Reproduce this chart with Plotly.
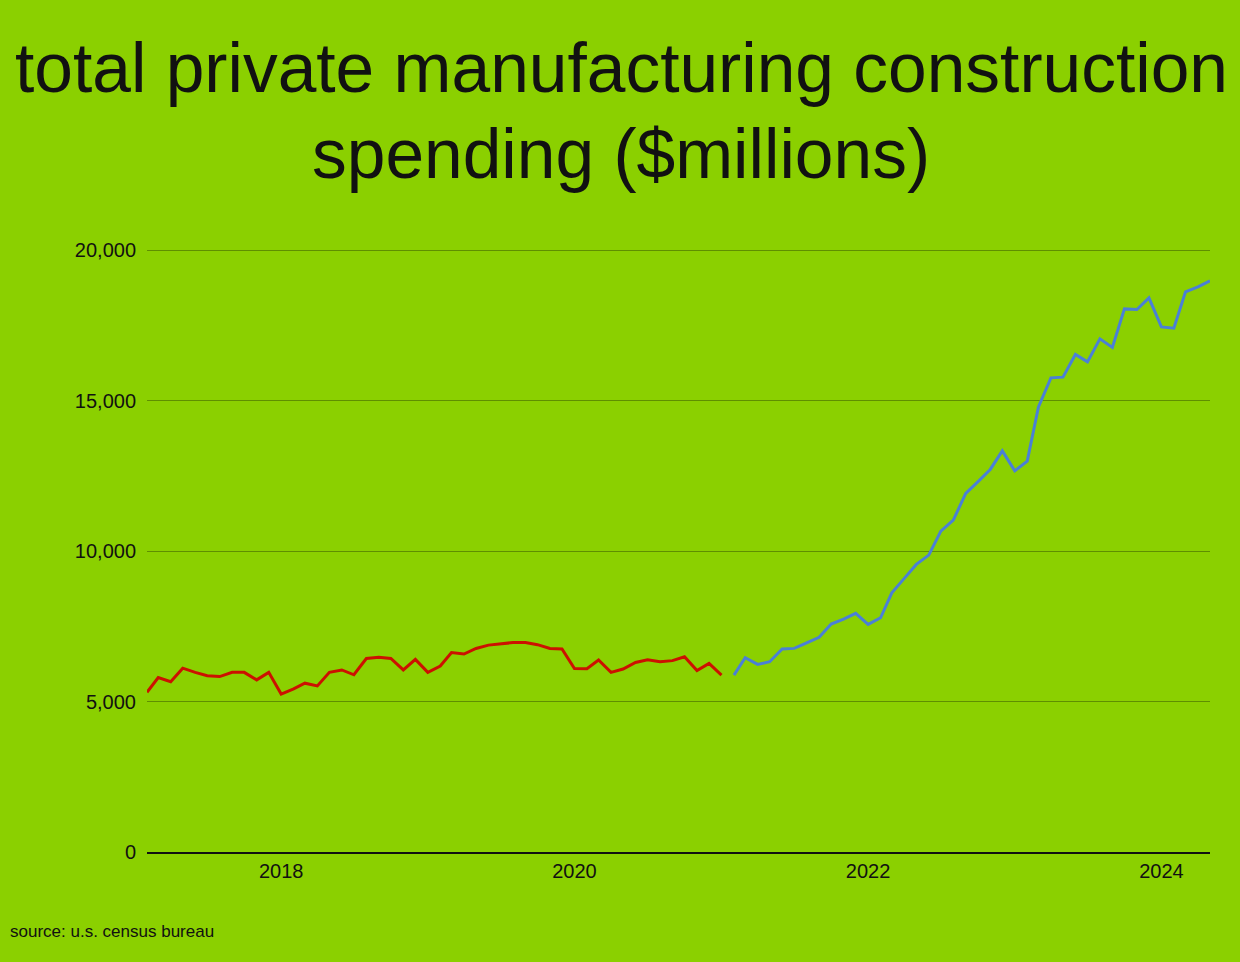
import pandas as pd
import plotly.graph_objects as go

# monthly totals, $ millions
red_start = "2017-02-01"
red_vals = [5310, 5800, 5660, 6110, 5970, 5860, 5830, 5970, 5970, 5720, 5970,
            5250, 5420, 5610, 5520, 5970, 6050, 5890, 6430, 6470, 6430, 6050, 6400,
            5970, 6180, 6630, 6580, 6765, 6875, 6910, 6960, 6960, 6890, 6765, 6745,
            6100, 6090, 6380, 5970, 6080, 6300, 6390, 6325, 6360, 6490, 6030, 6270,
            5880]

blue_start = "2021-02-01"
blue_vals = [5880, 6455, 6236, 6323, 6744, 6767, 6953, 7133, 7575, 7741, 7930,
             7565, 7784, 8615, 9093, 9558, 9867, 10664, 11030, 11917, 12303, 12714, 13330,
             12668, 12990, 14794, 15758, 15781, 16535, 16289, 17053, 16767, 18050, 18030, 18415,
             17452, 17409, 18615, 18781, 18980]

title_lines = ["total private manufacturing construction", "spending ($millions)"]

red_dates = pd.date_range(red_start, periods=len(red_vals), freq="MS")
blue_dates = pd.date_range(blue_start, periods=len(blue_vals), freq="MS")

FONT = "Liberation Sans, Arial, sans-serif"
BG = "#8bd000"
INK = "#111111"

fig = go.Figure()
fig.add_trace(go.Scatter(x=red_dates, y=red_vals, mode="lines",
                         line=dict(color="#cc1100", width=3), showlegend=False))
fig.add_trace(go.Scatter(x=blue_dates, y=blue_vals, mode="lines",
                         line=dict(color="#4a80d6", width=3), showlegend=False))

fig.update_layout(
    width=1240, height=962,
    paper_bgcolor=BG, plot_bgcolor=BG,
    margin=dict(l=147, r=30, t=249, b=110),
    font=dict(family=FONT, color=INK, size=20),
)
fig.update_xaxes(range=["2017-02-01", "2024-05-01"], tick0="2018-01-01", dtick="M24",
                 tickformat="%Y", showgrid=False, showline=True, linecolor=INK,
                 linewidth=2, ticks="", tickfont=dict(size=20))
fig.update_yaxes(range=[0, 20040], tickvals=[0, 5000, 10000, 15000, 20000],
                 tickformat=",", showgrid=True,
                 gridcolor="#5f8f00", gridwidth=1, zeroline=False, showline=False,
                 ticks="", ticklabelstandoff=10, tickfont=dict(size=20))

# title as two centred lines, placed in paper pixels
for line, y_px in zip(title_lines, [68, 154]):
    fig.add_annotation(text=line, xref="paper", yref="paper",
                       x=(621 - 147) / 1063, y=(852 - y_px) / 603,
                       xanchor="center", yanchor="middle", showarrow=False,
                       font=dict(family=FONT, size=69.5, color=INK))

fig.add_annotation(text="source: u.s. census bureau", xref="paper", yref="paper",
                   x=-139 / 1063, y=-79 / 603, xanchor="left", yanchor="middle",
                   showarrow=False, font=dict(family=FONT, size=17, color=INK))

fig.write_html("out.html", config={"displayModeBar": False},
               post_script="document.body.style.margin='0';")
